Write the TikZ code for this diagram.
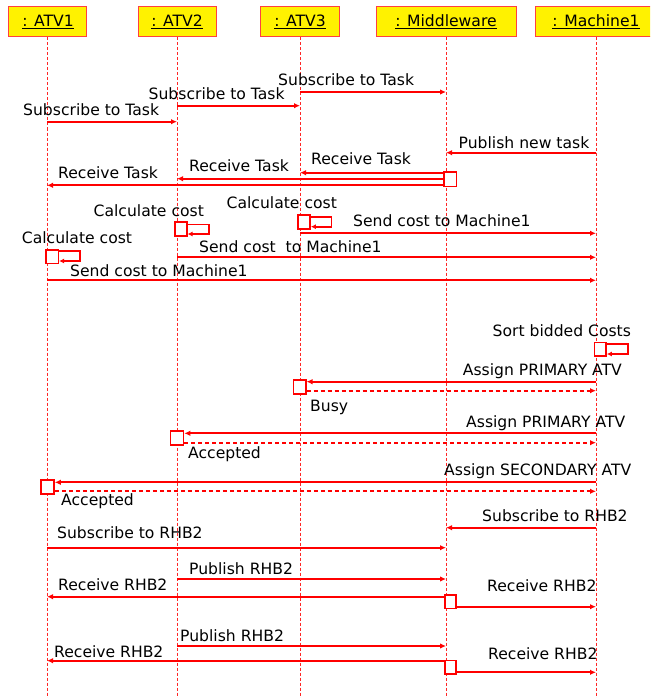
\documentclass[tikz,border=0pt]{standalone}
\usepackage{fontspec}
\setmainfont{DejaVu Sans}
\usetikzlibrary{arrows.meta}
\newcommand\lblfont{\fontsize{15.6}{18}\selectfont}
\begin{document}
\begin{tikzpicture}[x=1pt,y=-1pt,
  head/.style={draw=red!75, line width=1pt, fill=yellow, minimum height=30pt, inner sep=0pt, font=\lblfont},
  life/.style={draw=red!85, line width=0.7pt, dash pattern=on 3pt off 2pt},
  msg/.style={draw=red, line width=1.7pt, -{Latex[length=6pt,width=5.5pt]}},
  ret/.style={msg, dash pattern=on 4pt off 3pt},
  selfl/.style={draw=red, line width=1.6pt, -{Latex[length=5pt,width=5pt]}},
  act/.style={draw=red, line width=1.6pt, fill=white, minimum width=12pt, inner sep=0pt},
  lbl/.style={anchor=base west, inner sep=0pt, font=\lblfont, text=black}
]
\fill[white] (0,0) rectangle (650,698);
\clip (0,0) rectangle (650,698);

% heads
\node[head, minimum width=78pt] (h1) at (47,22) {\hspace{2pt}\underline{: ATV1}};
\node[head, minimum width=78pt] (h2) at (177,22) {\underline{: ATV2}};
\node[head, minimum width=79pt] (h3) at (300,22) {\underline{: ATV3}};
\node[head, minimum width=140pt] (h4) at (446,22) {\underline{: Middleware}};
\node[head, minimum width=122pt] (h5) at (596,22) {\underline{: Machine1}};

% lifelines
\foreach \h in {h1,h2,h3,h4,h5}
  \draw[life] (\h.south) -- (\h.south |- 0,698);

% subscribe
\draw[msg] (h3 |- 0,92) -- (h4 |- 0,92);
\node[lbl] (l1) at (278,86) {Subscribe to Task};
\draw[msg] (h2 |- 0,105.7) -- (h3 |- 0,105.7);
\node[lbl] (l2) at (148.5,99.3) {Subscribe to Task};
\draw[msg] (h1 |- 0,121.7) -- (h2 |- 0,121.7);
\node[lbl] (l3) at (23,116) {Subscribe to Task};

% publish new task
\draw[msg] (h5 |- 0,152.7) -- (h4 |- 0,152.7);
\node[lbl] (l4) at (458.5,148) {Publish new task};

% receive task
\node[act, minimum width=12.7pt, minimum height=14.7pt] (a1) at (450.3,179.3) {};
\draw[msg] (a1.west |- 0,172.7) -- (h3 |- 0,172.7);
\node[lbl] (l5) at (311,164) {Receive Task};
\draw[msg] (a1.west |- 0,178.7) -- (h2 |- 0,178.7);
\node[lbl] (l6) at (189,171) {Receive Task};
\draw[msg] (a1.west |- 0,185.3) -- (h1 |- 0,185.3);
\node[lbl] (l7) at (58,178.3) {Receive Task};

% calculate cost
\node[lbl] (l8) at (226.5,208.3) {Calculate cost};
\node[act, minimum width=12.3pt, minimum height=14pt] (s3) at (303.9,221.7) {};
\draw[selfl] (s3.east |- 0,216.7) -- (331.3,216.7) -- (331.3,226.7) -- (s3.east |- 0,226.7);
\node[lbl] (l9) at (93.5,216.7) {Calculate cost};
\node[act, minimum width=11.7pt, minimum height=14pt] (s2) at (180.9,229) {};
\draw[selfl] (s2.east |- 0,224.3) -- (208.7,224.3) -- (208.7,234) -- (s2.east |- 0,234);
\node[lbl] (l10) at (21.7,243.3) {Calculate cost};
\node[act, minimum width=12.6pt, minimum height=13.3pt] (s1) at (52,256.7) {};
\draw[selfl] (s1.east |- 0,251) -- (80,251) -- (80,261) -- (s1.east |- 0,261);

% send cost
\draw[msg] (h3 |- 0,233.3) -- (h5 |- 0,233.3);
\node[lbl] (l11) at (353,226.7) {Send cost to Machine1};
\draw[msg] (h2 |- 0,257.3) -- (h5 |- 0,257.3);
\node[lbl] (l12) at (199,252.3) {Send cost\ \ to Machine1};
\draw[msg] (h1 |- 0,280.3) -- (h5 |- 0,280.3);
\node[lbl] (l13) at (70,276) {Send cost to Machine1};

% sort
\node[lbl] (l14) at (492.5,336) {Sort bidded Costs};
\node[act, minimum width=11.7pt, minimum height=13.7pt] (s5) at (600.2,349.2) {};
\draw[selfl] (s5.east |- 0,344) -- (628,344) -- (628,354) -- (s5.east |- 0,354);

% assign
\node[act, minimum width=12.4pt, minimum height=14.3pt] (a3) at (299.5,386.9) {};
\draw[msg] (h5 |- 0,381.7) -- (a3.east |- 0,381.7);
\draw[ret] (a3.east |- 0,390.7) -- (h5 |- 0,390.7);
\node[lbl] (l15) at (462.7,375.7) {Assign PRIMARY ATV};
\node[lbl] (l16) at (310,411) {Busy};

\node[act, minimum width=13pt, minimum height=14pt] (a2) at (177,438) {};
\draw[msg] (h5 |- 0,433.3) -- (a2.east |- 0,433.3);
\draw[ret] (a2.east |- 0,442.7) -- (h5 |- 0,442.7);
\node[lbl] (l17) at (466,427.7) {Assign PRIMARY ATV};
\node[lbl] (l18) at (188,458) {Accepted};

\node[act, minimum width=13pt, minimum height=14pt] (a4) at (47.5,487) {};
\draw[msg] (h5 |- 0,482.3) -- (a4.east |- 0,482.3);
\draw[ret] (a4.east |- 0,491.3) -- (h5 |- 0,491.3);
\node[lbl] (l19) at (444,475) {Assign SECONDARY ATV};
\node[lbl] (l20) at (61,505.7) {Accepted};

% RHB2
\draw[msg] (h5 |- 0,527.7) -- (h4 |- 0,527.7);
\node[lbl] (l21) at (482,521.7) {Subscribe to RHB2};
\draw[msg] (h1 |- 0,547.7) -- (h4 |- 0,547.7);
\node[lbl] (l22) at (57,538.3) {Subscribe to RHB2};

\draw[msg] (h2 |- 0,579) -- (h4 |- 0,579);
\node[lbl] (l23) at (189,574.3) {Publish RHB2};
\node[act, minimum width=11pt, minimum height=13.7pt] (b1) at (450.5,601.8) {};
\draw[msg] (b1.west |- 0,596.7) -- (h1 |- 0,596.7);
\node[lbl] (l24) at (58,590) {Receive RHB2};
\draw[msg] (b1.east |- 0,606.7) -- (h5 |- 0,606.7);
\node[lbl] (l25) at (487,591.7) {Receive RHB2};

\draw[msg] (h2 |- 0,646) -- (h4 |- 0,646);
\node[lbl] (l26) at (180,641.7) {Publish RHB2};
\node[act, minimum width=11pt, minimum height=13.3pt] (b2) at (450.5,667.3) {};
\draw[msg] (b2.west |- 0,660.7) -- (h1 |- 0,660.7);
\node[lbl] (l27) at (54,657.7) {Receive RHB2};
\draw[msg] (b2.east |- 0,672.3) -- (h5 |- 0,672.3);
\node[lbl] (l28) at (488,659) {Receive RHB2};
\end{tikzpicture}
\end{document}
